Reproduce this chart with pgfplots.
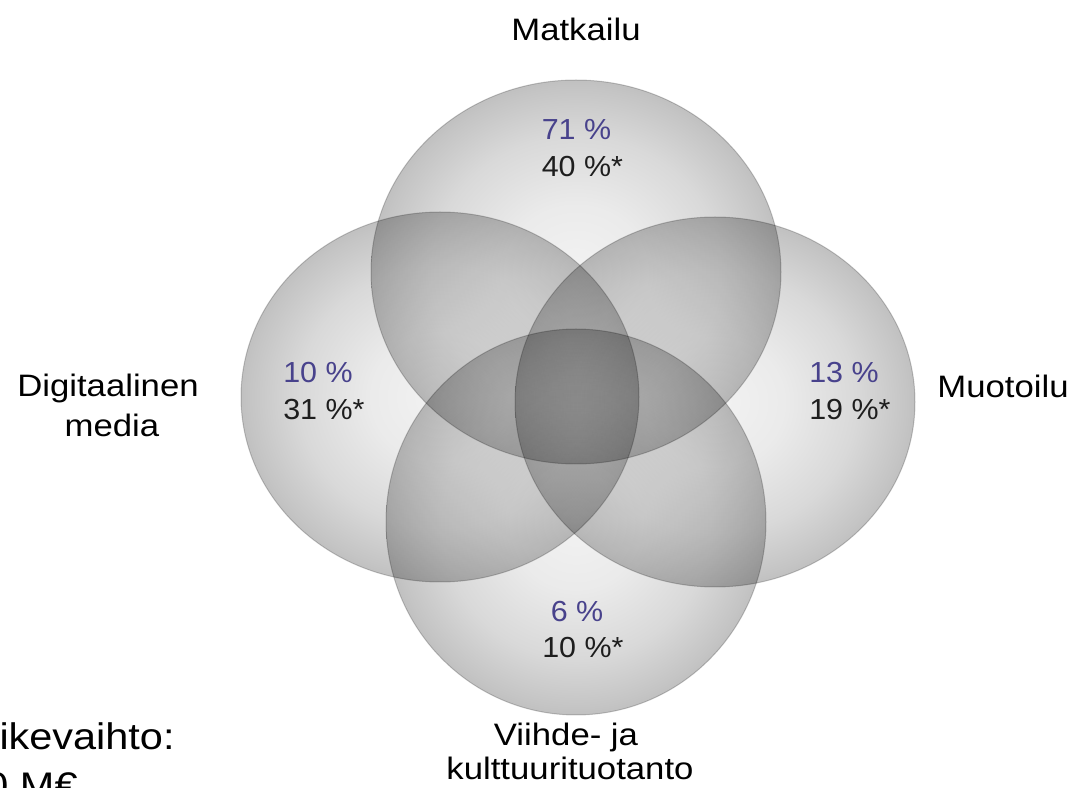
\documentclass[border=0pt]{standalone}
\usepackage{fontspec}
\setmainfont{Liberation Sans}
\newfontfamily\labfont{Liberation Sans}[FakeStretch=1.12]
\newfontfamily\pctfont{Liberation Sans}[FakeStretch=1.05]
\usepackage{pgfplots}
\pgfplotsset{compat=1.18}
\pgfdeclareradialshading{venn}{\pgfpoint{0bp}{0bp}}{rgb(0bp)=(0.95,0.95,0.95); rgb(8.8bp)=(0.92,0.92,0.92); rgb(17.7bp)=(0.85,0.85,0.85); rgb(24bp)=(0.77,0.77,0.77); rgb(29.7bp)=(0.68,0.68,0.68); rgb(33.2bp)=(0.60,0.60,0.60); rgb(35.4bp)=(0.53,0.53,0.53); rgb(50bp)=(0.53,0.53,0.53)}
\definecolor{pcol}{RGB}{72,66,140}
\definecolor{tcol}{RGB}{30,30,30}
\begin{document}
\begin{tikzpicture}
\begin{axis}[
  width=541.5pt, height=394pt, scale only axis, hide axis,
  xmin=0, xmax=1083, ymin=0, ymax=788, clip=false,
  /pgf/number format/assume math mode=true,
]
% Venn circles (centre x, centre y, x radius, y radius)
\shade[shading=venn, blend mode=multiply] (axis cs:576,516) ellipse [x radius=205, y radius=192];
\shade[shading=venn, blend mode=multiply] (axis cs:440,391) ellipse [x radius=199, y radius=185];
\shade[shading=venn, blend mode=multiply] (axis cs:715,386) ellipse [x radius=200, y radius=185];
\shade[shading=venn, blend mode=multiply] (axis cs:576,266) ellipse [x radius=190, y radius=193];
\draw[black, opacity=0.2, line width=0.5pt] (axis cs:576,516) ellipse [x radius=205, y radius=192];
\draw[black, opacity=0.2, line width=0.5pt] (axis cs:440,391) ellipse [x radius=199, y radius=185];
\draw[black, opacity=0.2, line width=0.5pt] (axis cs:715,386) ellipse [x radius=200, y radius=185];
\draw[black, opacity=0.2, line width=0.5pt] (axis cs:576,266) ellipse [x radius=190, y radius=193];

% shares (blue)
\addplot[draw=none, mark=none, point meta=explicit,
  nodes near coords={\pgfmathprintnumber{\pgfplotspointmeta}~\%},
  every node near coord/.append style={anchor=base, inner sep=0pt, text=pcol, font=\pctfont\fontsize{14.5}{14.5}\selectfont}]
  coordinates {(576.5,648)[71] (318,405)[10] (844,405)[13] (577,166)[6]};
% shares (black, *)
\addplot[draw=none, mark=none, point meta=explicit,
  nodes near coords={\pgfmathprintnumber{\pgfplotspointmeta}~\%\rlap{*}},
  every node near coord/.append style={anchor=base, inner sep=0pt, text=tcol, font=\pctfont\fontsize{14.5}{14.5}\selectfont}]
  coordinates {(576.5,611)[40] (318,368)[31] (844,368)[19] (577,130)[10]};

% category labels
\node[anchor=base, inner sep=0pt, font=\labfont\fontsize{15.5}{15.5}\selectfont] at (axis cs:576,747) {Matkailu};
\node[anchor=base, inner sep=0pt, font=\labfont\fontsize{15.5}{15.5}\selectfont] at (axis cs:108,391) {Digitaalinen};
\node[anchor=base, inner sep=0pt, font=\labfont\fontsize{15.5}{15.5}\selectfont] at (axis cs:112,351) {media};
\node[anchor=base, inner sep=0pt, font=\labfont\fontsize{15.5}{15.5}\selectfont] at (axis cs:1003,390) {Muotoilu};
\node[anchor=base, inner sep=0pt, font=\labfont\fontsize{15.5}{15.5}\selectfont] at (axis cs:566,42) {Viihde- ja};
\node[anchor=base, inner sep=0pt, font=\labfont\fontsize{15.5}{15.5}\selectfont] at (axis cs:570,8) {kulttuurituotanto};

% partly cut text at lower left
\node[anchor=base east, inner sep=0pt, font=\labfont\fontsize{18.5}{18.5}\selectfont] at (axis cs:175,39) {Liikevaihto:};
\node[anchor=base east, inner sep=0pt, font=\labfont\fontsize{18.5}{18.5}\selectfont] at (axis cs:78,-10.5) {0 M€};
\end{axis}
\pgfresetboundingbox
\path[use as bounding box] (current axis.south west) rectangle (current axis.north east);
\end{tikzpicture}
\end{document}
